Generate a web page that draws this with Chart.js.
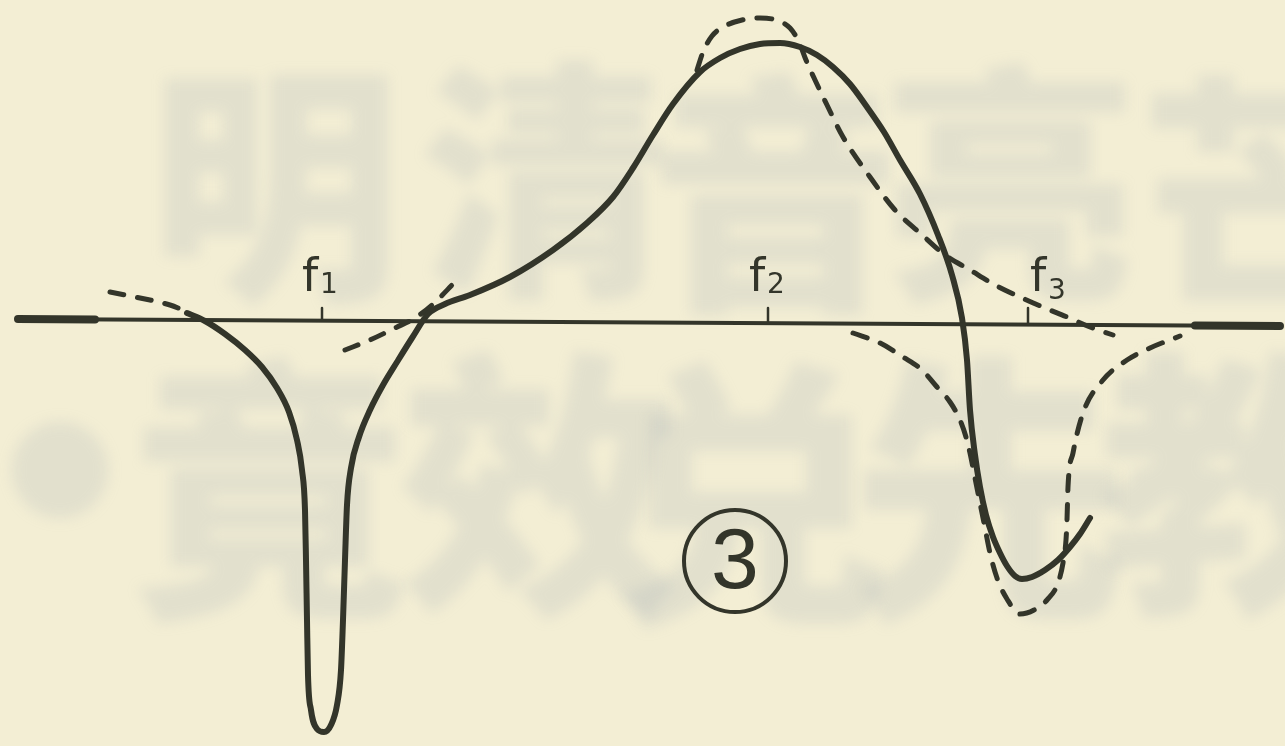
<!DOCTYPE html>
<html>
<head>
<meta charset="utf-8">
<script src="https://cdn.jsdelivr.net/npm/chart.js@4/dist/chart.umd.min.js"></script>
<style>
  html, body { margin: 0; padding: 0; background: #f2edd2; }
  #wrap { width: 1285px; height: 746px; position: relative; }
</style>
</head>
<body>
<div id="wrap"><canvas id="response"></canvas></div>
<script>
// frequency axis (horizontal) and response amplitude (vertical), amplitude 0 = axis
const solidFreq = [187, 205, 225, 245, 262, 277, 289, 297, 302, 305, 306, 307, 308, 311, 317, 324, 331, 337, 341, 343,
    345, 347, 351, 359, 370, 383, 397, 412, 428, 445, 470, 510, 553, 587, 613, 633, 653, 673, 700, 720,
    740, 760, 780, 800, 817, 833, 850, 867, 884, 900, 920, 938, 952, 962, 967, 970, 975,
    980, 986, 993, 1000, 1007, 1015, 1022, 1032, 1045, 1058, 1070, 1080, 1090];
const solidAmp = [7, -1, -14, -30, -47, -68, -92, -120, -150, -190, -240, -300, -355, -390, -409, -412, -405, -385, -350, -300,
    -240, -185, -148, -117, -90, -65, -42, -18, 6, 16, 25, 43, 70, 97, 123, 152, 185, 216, 248, 262,
    271, 276, 277, 273, 265, 253, 236, 213, 188, 160, 126, 85, 45, 2, -40, -90, -135,
    -167, -195, -217, -233, -246, -256, -259, -257, -250, -240, -227, -214, -198];

// dashed curve, drawn in pieces where it leaves the solid one
const dashLowFreq = [110, 140, 170, 190];
const dashLowAmp = [28, 22, 15, 7];
const dashCrossFreq = [345, 370, 395, 415, 432, 455];
const dashCrossAmp = [-30, -20, -8, 2, 15, 38];
const dashPeakFreq = [697, 703, 712, 725, 742, 760, 776, 790, 799, 806, 815, 827, 843, 870, 895, 920, 945, 970,
    995, 1020, 1045, 1067, 1090, 1113];
const dashPeakAmp = [250, 268, 284, 294, 300, 302, 300, 292, 278, 260, 240, 215, 183, 143, 110, 87, 65, 50,
    35, 23, 12, 3, -7, -15];
const dashDipFreq = [853, 880, 903, 922, 937, 950, 960, 966, 970, 975, 980, 985, 990, 997, 1007, 1020, 1034, 1047,
    1058, 1063, 1066, 1067, 1068, 1073, 1083, 1103, 1127, 1150, 1180];
const dashDipAmp = [-13, -23, -37, -50, -67, -82, -100, -117, -133, -158, -183, -208, -233, -258, -279, -294, -290, -280,
    -263, -243, -220, -200, -167, -133, -93, -60, -40, -28, -16];

// the frequency axis itself
const axisFreq = [18, 1280];
const axisAmp = [1, -6];

// marked frequencies f1, f2, f3
const markFreq = [322, 768, 1028];
const markBase = [0.3, -1.5, -3];
const markLabels = ['f1', 'f2', 'f3'];

// circled figure number
const figureNo = '3';
const figurePos = [735, -241];

const ink = '#33352a';

function pts(xs, ys) {
    return xs.map((x, i) => ({x: x, y: ys[i]}));
}

const lineDefaults = {
    pointRadius: 0,
    fill: false,
    borderColor: ink,
    cubicInterpolationMode: 'monotone',
    borderCapStyle: 'round',
    borderJoinStyle: 'round'
};

const datasets = [
    {...lineDefaults, data: pts(axisFreq, axisAmp), borderWidth: 4},
    {...lineDefaults, data: pts([18, 95], [1, 0.6]), borderWidth: 8},
    {...lineDefaults, data: pts([1195, 1280], [-5.6, -6]), borderWidth: 8},
    {...lineDefaults, data: pts(solidFreq, solidAmp), borderWidth: 6},
    {...lineDefaults, data: pts(dashLowFreq, dashLowAmp), borderWidth: 5, borderDash: [14, 14]},
    {...lineDefaults, data: pts(dashCrossFreq, dashCrossAmp), borderWidth: 5, borderDash: [14, 14]},
    {...lineDefaults, data: pts(dashPeakFreq, dashPeakAmp), borderWidth: 5, borderDash: [15, 14]},
    {...lineDefaults, data: pts(dashDipFreq, dashDipAmp), borderWidth: 5, borderDash: [15, 14]}
];

markFreq.forEach((f, i) => {
    datasets.push({...lineDefaults, data: [{x: f, y: markBase[i]}, {x: f, y: 12}], borderWidth: 2.5});
});

datasets.push({
    type: 'scatter',
    data: [{x: figurePos[0], y: figurePos[1]}],
    pointRadius: 51,
    pointBorderWidth: 4,
    pointBorderColor: ink,
    pointBackgroundColor: 'rgba(0,0,0,0)',
    showLine: false
});

// old paper with the print from the other side showing through
const paperPlugin = {
    id: 'paper',
    beforeDraw(chart) {
        const ctx = chart.ctx;
        const w = chart.width, h = chart.height;
        ctx.save();
        ctx.fillStyle = '#f3eed4';
        ctx.fillRect(0, 0, w, h);
        ctx.filter = 'blur(7px)';
        ctx.fillStyle = 'rgba(160, 172, 178, 0.2)';
        ctx.font = '900 250px "Noto Sans CJK SC"';
        ctx.textBaseline = 'top';
        [['明', 150, 60], ['清', 420, 55], ['音', 650, 70], ['亮', 885, 60], ['芒', 1140, 70]].forEach(c => {
            ctx.fillText(c[0], c[1], c[2]);
        });
        ctx.font = '900 280px "Noto Sans CJK SC"';
        [['竟', 130, 350], ['效', 400, 345], ['兑', 610, 355], ['先', 850, 350], ['教', 1100, 345]].forEach(c => {
            ctx.fillText(c[0], c[1], c[2]);
        });
        ctx.beginPath();
        ctx.arc(60, 470, 48, 0, Math.PI * 2);
        ctx.fill();
        ctx.restore();
    }
};

// f1..f3 labels above the axis, and the figure number inside its circle
const labelPlugin = {
    id: 'labels',
    afterDatasetsDraw(chart) {
        const ctx = chart.ctx;
        const xs = chart.scales.x, ys = chart.scales.y;
        const nudge = [-12, -11, 10];
        ctx.save();
        ctx.fillStyle = ink;
        ctx.textBaseline = 'alphabetic';
        markLabels.forEach((lab, i) => {
            const px = xs.getPixelForValue(markFreq[i]) + nudge[i];
            const py = ys.getPixelForValue(0) - 29;
            ctx.font = '500 46px "DejaVu Sans"';
            ctx.textAlign = 'center';
            ctx.fillText(lab[0], px, py);
            ctx.font = '500 28px "DejaVu Sans"';
            ctx.textAlign = 'left';
            ctx.fillText(lab.slice(1), px + 10, py + 2 + (i === 2 ? 6 : 0));
        });
        ctx.font = '86px "Liberation Sans"';
        ctx.textAlign = 'center';
        ctx.textBaseline = 'middle';
        ctx.fillText(figureNo, xs.getPixelForValue(figurePos[0]), ys.getPixelForValue(figurePos[1]) + 3);
        ctx.restore();
    }
};

new Chart(document.getElementById('response'), {
    type: 'line',
    data: {datasets: datasets},
    options: {
        responsive: true,
        maintainAspectRatio: false,
        animation: false,
        layout: {padding: 0, autoPadding: false},
        plugins: {legend: {display: false}, tooltip: {enabled: false}},
        scales: {
            x: {type: 'linear', min: 0, max: 1285, display: false},
            y: {type: 'linear', min: -426, max: 320, display: false}
        }
    },
    plugins: [paperPlugin, labelPlugin]
});
</script>
</body>
</html>
